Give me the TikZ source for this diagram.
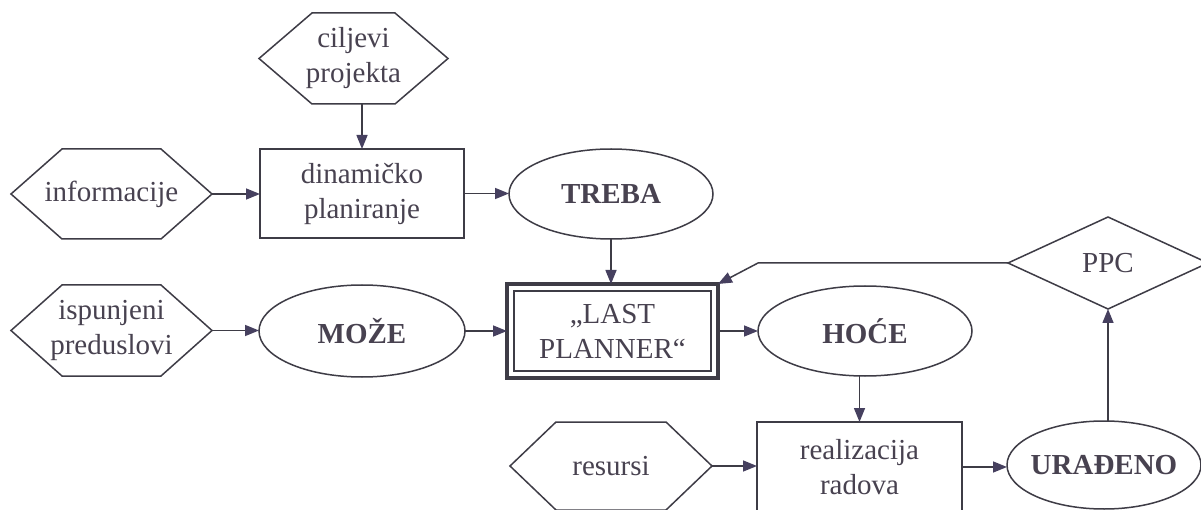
\documentclass[tikz,border=0pt]{standalone}
\usepackage{fontspec}
\setmainfont{Liberation Serif}
\usetikzlibrary{shapes.geometric,arrows.meta}
\definecolor{ln}{RGB}{62,60,70}
\definecolor{tip}{RGB}{70,64,95}
\definecolor{txt}{RGB}{72,66,80}
% hexagon drawn around a (borderless) node: #1 = node name, #2 = horizontal inset of the points
\newcommand\hexoutline[2]{%
  \draw[outline] ([xshift=#2]#1.north west) -- ([xshift=-#2]#1.north east) -- (#1.east)
    -- ([xshift=-#2]#1.south east) -- ([xshift=#2]#1.south west) -- (#1.west) -- cycle;}
\begin{document}
\begin{tikzpicture}[x=1pt,y=-1pt,
  every node/.style={text=txt,font=\fontsize{29}{35}\selectfont,align=center,inner sep=0pt,outer sep=0pt},
  lbl/.style={rectangle},
  boxnode/.style={rectangle,draw=ln,line width=1.5pt},
  oval/.style={ellipse,draw=ln,line width=1.5pt,font=\fontsize{29}{35}\selectfont\bfseries},
  outline/.style={draw=ln,line width=1.5pt,line join=miter},
  arr/.style={draw=ln,line width=1.5pt,-{Triangle[length=14pt,width=11pt,color=tip]}}
]
\useasboundingbox (0,0) rectangle (1201,510);
\fill[white] (0,0) rectangle (1201,510);

% inputs (hexagons)
\node[lbl,minimum width=189pt,minimum height=91pt] (cilj) at (353.5,58.5) {ciljevi\\projekta};
\hexoutline{cilj}{53pt}
\node[lbl,minimum width=201pt,minimum height=90pt] (inf) at (111.5,194) {informacije};
\hexoutline{inf}{51pt}
\node[lbl,minimum width=201pt,minimum height=91pt] (isp) at (111.5,330.5) {ispunjeni\\preduslovi};
\hexoutline{isp}{51pt}
\node[lbl,minimum width=202pt,minimum height=88pt] (res) at (611,466) {resursi};
\hexoutline{res}{46pt}

% processes
\node[boxnode,minimum width=204pt,minimum height=89pt] (din) at (362,193.5) {dinamičko\\planiranje};
\node[boxnode,minimum width=205pt,minimum height=90pt] (real) at (859.5,467) {realizacija\\radova};

% states
\node[oval,minimum width=204pt,minimum height=90pt] (treba) at (611,194) {TREBA};
\node[oval,minimum width=206pt,minimum height=92pt] (moze) at (362,331) {MOŽE};
\node[oval,minimum width=214pt,minimum height=90pt] (hoce) at (865,331) {HOĆE};
\node[oval,minimum width=194pt,minimum height=88pt] (urad) at (1104,465) {\makebox[0pt]{URAĐENO}};

% measurement
\node[diamond,draw=ln,line width=1.5pt,minimum width=200pt,minimum height=92pt] (ppc) at (1108,263) {PPC};

% central planner box with double frame
\node[rectangle,draw=ln,line width=4pt,minimum width=211pt,minimum height=94pt] (lp) at (612.5,331) {„LAST\\PLANNER“};
\draw[ln,line width=2pt] ([xshift=7pt,yshift=-7pt]lp.north west) rectangle ([xshift=-7pt,yshift=7pt]lp.south east);

% flows
\draw[arr] (din.north |- cilj.south) -- (din.north);
\draw[arr] (inf.east) -- (inf.east -| din.west);
\draw[arr] (din.east) -- (din.east -| treba.west);
\draw[arr] (treba.south) -- (treba.south |- lp.north);
\draw[arr] (isp.east) -- (isp.east -| moze.west);
\draw[arr] (moze.east) -- (moze.east -| lp.west);
\draw[arr] (lp.east) -- (lp.east -| hoce.west);
\draw[arr] (real.north |- hoce.south) -- (real.north);
\draw[arr] (res.east) -- (res.east -| real.west);
\draw[arr] (real.east) -- (real.east -| urad.west);
\draw[arr] (ppc.south |- urad.north) -- (ppc.south);
\coordinate (bend) at (758,263);
\draw[arr] (ppc.west) -- (bend) -- (lp.north east);
\end{tikzpicture}
\end{document}
